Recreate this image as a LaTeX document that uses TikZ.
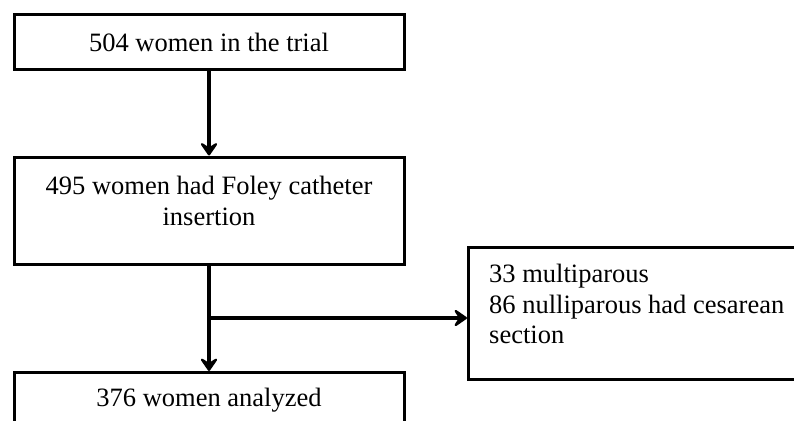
\documentclass[tikz,border=0pt]{standalone}
\usepackage{fontspec}
\setmainfont{Liberation Serif}
\usetikzlibrary{arrows.meta,calc}
\begin{document}
\begin{tikzpicture}[x=1pt,y=-1pt,
  box/.style={draw, line width=3pt, inner sep=0pt},
  txt/.style={font=\fontsize{26.5}{30.5}\selectfont, inner sep=0pt},
  arr/.style={line width=3.2pt, -{Stealth[length=16pt,width=22pt,inset=7pt,round]}}]
\useasboundingbox (0,0) rectangle (794,420);
\clip (0,0) rectangle (794,420);
\node[box, txt, minimum width=390pt, minimum height=54pt] (b1) at (209,42) {504 women in the trial};
\node[box, minimum width=390pt, minimum height=107pt] (b2) at (209,210.5) {};
\node[txt, align=center, anchor=north] (t2) at (209,176) {495 women had Foley catheter\\insertion};
\node[box, minimum width=390pt, minimum height=80pt, anchor=north] (b3) at (209,371) {};
\node[txt, anchor=north] (t3) at (209,388) {376 women analyzed};
\node[box, minimum width=345pt, minimum height=132pt, anchor=north west] (b4) at (467,246) {};
\node[txt, align=left, anchor=north west] (t4) at (489,264) {33 multiparous\\86 nulliparous had cesarean\\section};
\coordinate (j) at (209,318);
\draw[arr] (b1) -- (b2);
\draw[arr] (b2) -- (b3);
\draw[arr] (j) -- (j -| b4.west);
\end{tikzpicture}
\end{document}
